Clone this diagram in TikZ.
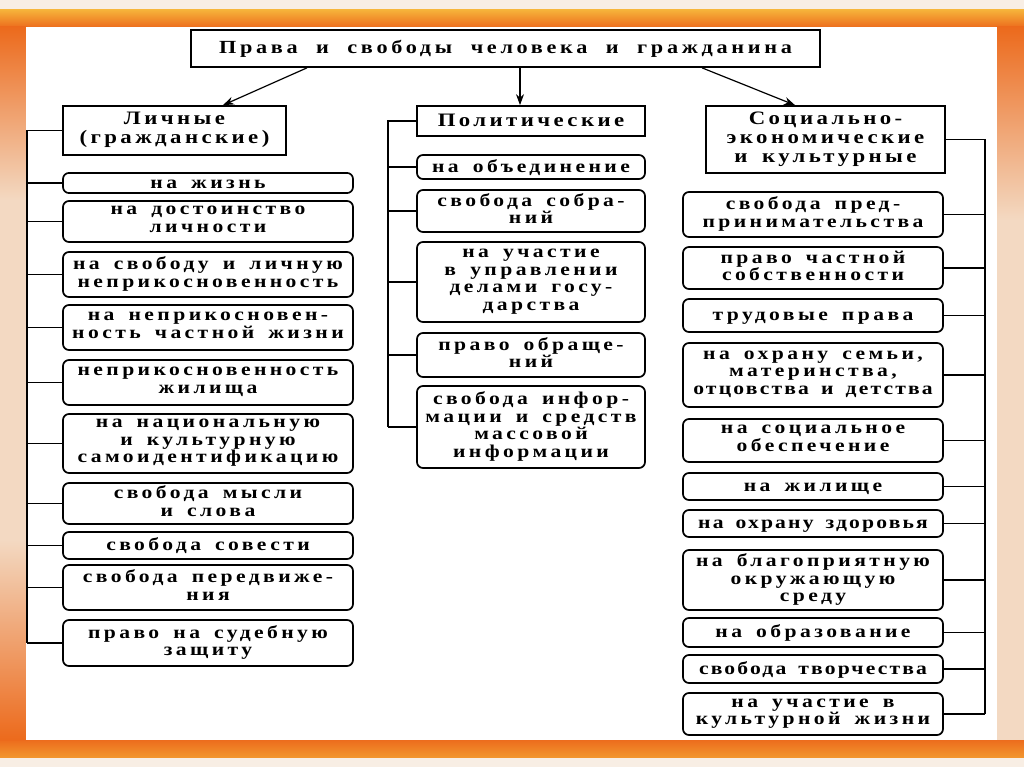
\documentclass[tikz,border=0pt]{standalone}
\usepackage{fontspec}
\newfontfamily\itemfam{Liberation Serif}[FakeStretch=1.2, LetterSpace=19, WordSpace=1.6]
\newfontfamily\headfam{Liberation Serif}[FakeStretch=1.2, LetterSpace=18, WordSpace=1.6]
\newfontfamily\titlefam{Liberation Serif}[FakeStretch=1.2, LetterSpace=20, WordSpace=2]
\usetikzlibrary{arrows.meta}
\definecolor{cream}{HTML}{F8EEE4}
\definecolor{orng}{HTML}{EC6A1C}
\definecolor{gold}{HTML}{F6B23A}
\definecolor{peach}{HTML}{F3D9C2}
\newcommand\itemfnt{\itemfam\fontsize{18}{17.5}\selectfont\bfseries}
\newcommand\headfnt{\headfam\fontsize{19}{19}\selectfont\bfseries}
\newcommand\titlefnt{\titlefam\fontsize{18.5}{20}\selectfont\bfseries}
\newcommand\tight{\addfontfeature{LetterSpace=12}}
\begin{document}
\begin{tikzpicture}[x=1pt,y=-1pt,
  boxbase/.style={draw, line width=1.7pt, fill=white, align=center, inner sep=0pt,
    execute at begin node={\rule{0pt}{15.3pt}},
    execute at end node={\rule[-4.8pt]{0pt}{0pt}}},
  item/.style={boxbase, rounded corners=6pt, font=\itemfnt},
  lbox/.style={item, minimum width=290pt},
  mbox/.style={item, minimum width=228pt},
  rbox/.style={item, minimum width=260pt},
  headbox/.style={boxbase, font=\headfnt},
  bus/.style={line width=1.7pt},
  conn/.style={line width=1.2pt},
  arr/.style={line width=1.2pt, -{Stealth[length=11pt,width=8pt]}}]
\useasboundingbox (0,0) rectangle (1024,767);
% background
\fill[cream] (0,0) rectangle (1024,767);
\shade[top color=gold, bottom color=orng] (0,10) rectangle (1024,28);
\shade[top color=orng, bottom color=gold!60!orng] (0,739) rectangle (1024,757);
\shade[top color=orng, bottom color=peach] (0,27) rectangle (27,200);
\fill[peach] (0,200) rectangle (27,540);
\shade[top color=peach, bottom color=orng] (0,540) rectangle (27,740);
\shade[top color=orng, bottom color=peach] (996,27) rectangle (1024,220);
\fill[peach] (996,220) rectangle (1024,740);
\fill[white] (26,27) rectangle (997,740);
% title and headers
\node[headbox, font=\titlefnt, minimum width=629pt, minimum height=37pt] (title) at (505.5,48.5) {Права и свободы человека и гражданина};
\node[headbox, minimum width=223pt, minimum height=49pt] (lh) at (174.5,130.5) {Личные\\(гражданские)};
\node[headbox, minimum width=228pt, minimum height=30pt] (mh) at (531,121) {Политические};
\node[headbox, minimum width=239pt, minimum height=67pt] (rh) at (825.5,139.5) {Социально-\\экономические\\и культурные};
\draw[arr] ([xshift=-198.5pt]title.south) -- ([xshift=48.5pt]lh.north);
\draw[arr] ([xshift=14.5pt]title.south) -- ([xshift=-11pt]mh.north);
\draw[arr] ([xshift=196.5pt]title.south) -- ([xshift=-30.5pt]rh.north);
% left column
\node[lbox, minimum height=20pt] (l1) at (208,183) {на жизнь};
\node[lbox, minimum height=41pt] (l2) at (208,221.5) {на достоинство\\личности};
\node[lbox, minimum height=45pt] (l3) at (208,274.5) {на свободу и личную\\неприкосновенность};
\node[lbox, minimum height=45pt] (l4) at (208,327.5) {на неприкосновен-\\ность частной жизни};
\node[lbox, minimum height=45pt] (l5) at (208,382.5) {неприкосновенность\\жилища};
\node[lbox, minimum height=59pt] (l6) at (208,443.5) {на национальную\\и культурную\\самоидентификацию};
\node[lbox, minimum height=41pt] (l7) at (208,503.5) {свобода мысли\\и слова};
\node[lbox, minimum height=27pt] (l8) at (208,545.5) {свобода совести};
\node[lbox, minimum height=45pt] (l9) at (208,587.5) {свобода передвиже-\\ния};
\node[lbox, minimum height=46pt] (l10) at (208,643) {право на судебную\\защиту};
\coordinate (lbot) at (27,643);
\draw[bus] (lh.west) -| (lbot);
\foreach \n in {l1,l2,l3,l4,l5,l6,l7,l8,l9,l10} \draw[conn] (\n.west) -- (\n.west -| lbot);
% middle column
\node[mbox, minimum height=24pt] (m1) at (531,167) {на объединение};
\node[mbox, minimum height=42pt] (m2) at (531,211) {свобода собра-\\ний};
\node[mbox, minimum height=80pt] (m3) at (531,282) {на участие\\в управлении\\делами госу-\\дарства};
\node[mbox, minimum height=44pt] (m4) at (531,355) {право обраще-\\ний};
\node[mbox, minimum height=82pt] (m5) at (531,427) {свобода инфор-\\мации и средств\\массовой\\информации};
\coordinate (mbot) at (388,427);
\draw[bus] (mh.west) -| (mbot);
\foreach \n in {m1,m2,m3,m4,m5} \draw[conn] (\n.west) -- (\n.west -| mbot);
% right column
\node[rbox, minimum height=45pt] (r1) at (813,214.5) {свобода пред-\\принимательства};
\node[rbox, minimum height=42pt] (r2) at (813,268) {право частной\\собственности};
\node[rbox, minimum height=33pt] (r3) at (813,315.5) {трудовые права};
\node[rbox, minimum height=64pt] (r4) at (813,375) {на охрану семьи,\\материнства,\\{\tight отцовства и детства}};
\node[rbox, minimum height=43pt] (r5) at (813,440.5) {на социальное\\обеспечение};
\node[rbox, minimum height=27pt] (r6) at (813,486.5) {на жилище};
\node[rbox, minimum height=27pt] (r7) at (813,523.5) {{\tight на охрану здоровья}};
\node[rbox, minimum height=60pt] (r8) at (813,580) {на благоприятную\\окружающую\\среду};
\node[rbox, minimum height=29pt] (r9) at (813,632.5) {на образование};
\node[rbox, minimum height=28pt] (r10) at (813,669) {{\tight свобода творчества}};
\node[rbox, minimum height=42pt] (r11) at (813,714) {на участие в\\культурной жизни};
\coordinate (rbot) at (985,714);
\draw[bus] (rh.east) -| (rbot);
\foreach \n in {r1,r2,r3,r4,r5,r6,r7,r8,r9,r10,r11} \draw[conn] (\n.east) -- (\n.east -| rbot);
\end{tikzpicture}
\end{document}
